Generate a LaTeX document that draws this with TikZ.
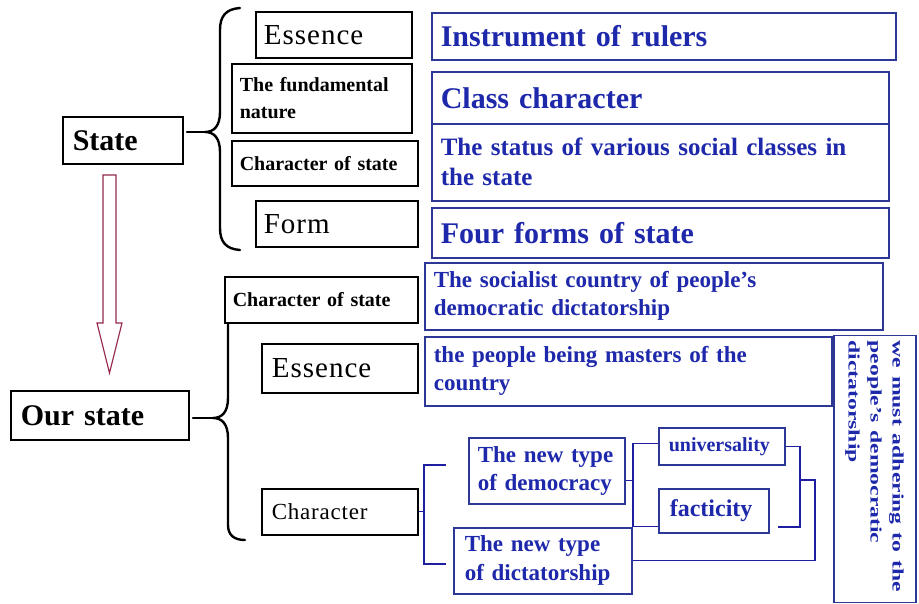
\documentclass[tikz,border=0pt]{standalone}
\usepackage{fontspec}
\setmainfont{Liberation Serif}
\newfontfamily\regsp[LetterSpace=3.5]{Liberation Serif}
\usepackage{graphicx}
\usetikzlibrary{calc}
\definecolor{txt}{RGB}{30,40,170}
\definecolor{bord}{RGB}{45,55,150}
\definecolor{conncol}{RGB}{30,30,160}
\definecolor{maroon}{RGB}{150,40,80}
\tikzset{
 bbox/.style={draw=black, line width=1.6pt, fill=white, anchor=north west, align=left, inner xsep=8pt, inner ysep=0pt},
 ubox/.style={draw=bord, line width=1.6pt, fill=white, text=txt, anchor=north west, align=left, inner xsep=9pt, inner ysep=0pt},
 conn/.style={draw=conncol, line width=1.3pt},
 brace/.style={draw=black, line width=2.4pt, line cap=round},
 arrowc/.style={draw=maroon, line width=1.2pt, fill=white, line join=miter},
 f30/.style={font=\bfseries\fontsize{30}{32}\selectfont},
 f25/.style={font=\bfseries\fontsize{25}{30}\selectfont},
 f24/.style={font=\bfseries\fontsize{24}{28}\selectfont},
 f23/.style={font=\bfseries\fontsize{23}{28}\selectfont},
 f23b/.style={font=\bfseries\fontsize{23}{29}\selectfont},
 f20/.style={font=\bfseries\fontsize{20}{27}\selectfont},
 rg29/.style={font=\regsp\fontsize{29}{32}\selectfont},
 rg23/.style={font=\regsp\fontsize{23}{28}\selectfont}
}
\begin{document}
\begin{tikzpicture}[x=1pt,y=-1pt]
\useasboundingbox[fill=white] (0,0) rectangle (919,603);

% arrow State -> Our state
\draw[arrowc] (103,175) -- (116,175) -- (116,323) -- (122,323) -- (109.5,373) -- (97,323) -- (103,323) -- cycle;

% braces
\draw[brace] (240,8) .. controls (226,9) and (220,16) .. (220,30) -- (220,112) .. controls (220,126) and (214,132) .. (205,132) .. controls (214,132) and (220,138) .. (220,152) -- (220,228) .. controls (220,242) and (226,249) .. (240,250);
\draw[brace] (187,132) -- (205,132);
\draw[brace] (228,322) -- (228,398) .. controls (228,412) and (222,418) .. (213,418) .. controls (222,418) and (228,424) .. (228,438) -- (228,525) .. controls (228,535) and (234,540) .. (245,540);
\draw[brace] (193,418) -- (213,418);

% top part
\node[bbox,f30,minimum width=120pt,minimum height=47pt,inner xsep=10pt,text width=100pt] (state) at (62,116) {State};
\node[bbox,rg29,minimum width=156pt,minimum height=46pt,text width=140pt] (ess1) at (255,11) {Essence};
\node[bbox,f20,minimum width=180pt,minimum height=69pt,text width=164pt] (fund) at (231,63) {The fundamental\\nature};
\node[bbox,f20,minimum width=186pt,minimum height=45pt,text width=170pt] (chs1) at (231,140) {Character of state};
\node[bbox,rg29,minimum width=162pt,minimum height=46pt,text width=146pt] (form) at (255,200) {Form};

\node[ubox,f30,minimum width=464pt,minimum height=47pt,text width=446pt] (instr) at (431,12) {Instrument of rulers};
\node[ubox,f30,minimum width=457pt,minimum height=52pt,text width=439pt] (cls) at (431,71) {Class character};
\node[ubox,f25,minimum width=457pt,minimum height=77pt,text width=439pt] (status) at (431,123) {The status of various social classes in\\the state};
\node[ubox,f30,minimum width=457pt,minimum height=50pt,text width=439pt] (four) at (431,207) {Four forms of state};

% bottom part
\node[bbox,f30,minimum width=178pt,minimum height=49pt,inner xsep=10pt,text width=158pt] (our) at (10,390) {Our state};
\node[bbox,f20,minimum width=193pt,minimum height=46pt,text width=177pt] (chs2) at (224,276) {Character of state};
\node[bbox,rg29,minimum width=156pt,minimum height=49pt,inner xsep=10pt,text width=136pt] (ess2) at (261,343) {Essence};
\node[bbox,rg23,minimum width=156pt,minimum height=46pt,inner xsep=10pt,text width=136pt] (chr) at (261,488) {Character};

\node[ubox,f23,minimum width=458pt,minimum height=67pt,text width=440pt] (soc) at (424,262) {The socialist country of people's\\democratic dictatorship};
\node[ubox,f23,minimum width=407pt,minimum height=69pt,text width=389pt] (mast) at (424,336) {the people being masters of the\\country};
\node[ubox,f23,minimum width=156pt,minimum height=66pt,text width=138pt] (dem) at (468,437) {The new type\\of democracy};
\node[ubox,f20,minimum width=126pt,minimum height=37pt,inner xsep=10pt,text width=106pt] (univ) at (658,427) {universality};
\node[ubox,f24,minimum width=110pt,minimum height=44pt,inner xsep=11pt,text width=88pt] (fact) at (658,488) {facticity};
\node[ubox,f23b,minimum width=178pt,minimum height=66pt,inner xsep=11pt,text width=156pt] (dict) at (453,527) {The new type\\of dictatorship};

\node[draw=bord, line width=1.6pt, fill=white, text=txt, rotate=-90, minimum width=267pt, minimum height=82pt, inner xsep=5pt, inner ysep=0pt, text width=257pt, align=left, font=\bfseries\fontsize{16}{22}\selectfont] (must) at (875,469) {\scalebox{1.48}[1]{\begin{tabular}{@{}l@{}}we must adhering to the\\people's democratic\\dictatorship\end{tabular}}};

% connectors
\coordinate (kx) at (424,0);
\coordinate (kt) at (446,465);
\coordinate (kb) at (446,564);
\draw[conn] (chr.east) -- (chr.east -| kx);
\draw[conn] (kt) -- (kt -| kx) -- (kb -| kx) -- (kb);

\coordinate (dx) at (633,0);
\draw[conn] ([yshift=-10pt]dem.east) -- ([yshift=-10pt]dem.east -| dx);
\draw[conn] ([yshift=2.5pt]univ.west) -| ([yshift=-16pt]fact.west -| dx) -- ([yshift=-16pt]fact.west);

\coordinate (r1) at (800,0);
\coordinate (ub) at (778,527);
\draw[conn] (univ.east) -| (ub -| r1) -- (ub);
\coordinate (rm) at (800,480);
\coordinate (r2) at (815,480);
\draw[conn] (rm) -- (r2) |- (dict.east);
\end{tikzpicture}
\end{document}
